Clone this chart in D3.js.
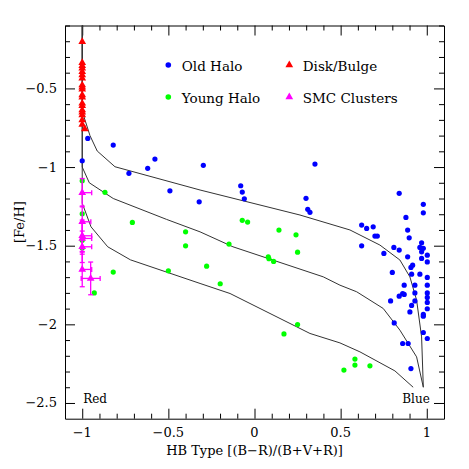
<!DOCTYPE html>
<html><head><meta charset="utf-8">
<script src="https://cdn.jsdelivr.net/npm/d3@7"></script>
<style>
html,body{margin:0;padding:0;background:#fff;}
svg text{font-family:"DejaVu Serif",serif;fill:#000;}
</style></head>
<body>
<svg id="chart" width="469" height="469"></svg>
<script>
// ---- data ----
const xTicksMajor = [-1, -0.5, 0, 0.5, 1];
const xTickLabels = ["\u22121", "\u22120.5", "0", "0.5", "1"];
const yTicksMajor = [-0.5, -1, -1.5, -2, -2.5];
const yTickLabels = ["\u22120.5", "\u22121", "\u22121.5", "\u22122", "\u22122.5"];

const model1X = [-1, -1, -0.99, -0.955, -0.913, -0.81, -0.316, 0.264, 0.554, 0.728, 0.844, 0.902, 0.941, 0.970, 0.980];
const model1Y = [-0.1, -0.62, -0.68, -0.80, -0.898, -0.998, -1.146, -1.305, -1.40, -1.496, -1.591, -1.698, -1.846, -2.08, -2.40];
const model2X = [-1, -1, -0.959, -0.82, -0.51, -0.316, -0.125, 0.399, 0.496, 0.593, 0.747, 0.844, 0.941, 0.980];
const model2Y = [-0.1, -1.0, -1.1, -1.2, -1.333, -1.412, -1.507, -1.698, -1.751, -1.793, -1.899, -2.037, -2.207, -2.40];
const model3X = [-1, -1, -0.949, -0.852, -0.72, -0.316, -0.142, 0.322, 0.496, 0.612, 0.815, 0.921];
const model3Y = [-0.1, -1.23, -1.38, -1.507, -1.59, -1.74, -1.804, -2.058, -2.118, -2.175, -2.296, -2.40];

const oldHaloX = [-0.968, -0.820, -1.0, -0.729, -0.620, -0.578, -0.297, -0.491, -0.321,
  0.351, -0.080, -0.071, -0.059, 0.299, 0.309, 0.322,
  0.840, 0.980, 0.980, 0.879, 0.622, 0.651, 0.689, 0.889, 0.699, 0.713, 0.898, 0.970,
  0.622, 0.809, 0.840, 0.960, 0.980, 0.970, 0.751, 1.003, 0.889, 0.970, 1.003, 0.918,
  0.908, 0.912, 0.960, 0.800, 1.003, 0.869, 0.931, 1.003, 0.860, 0.869, 0.840, 0.931,
  1.003, 1.003, 0.931, 0.790, 1.003, 0.912, 1.003, 0.902, 0.980, 0.980, 0.811, 0.980,
  1.003, 0.860, 0.892, 0.908];
const oldHaloY = [-0.818, -0.860, -0.96, -1.04, -1.008, -0.949, -0.989, -1.151, -1.221,
  -0.981, -1.119, -1.159, -1.202, -1.199, -1.269, -1.288,
  -1.167, -1.237, -1.291, -1.320, -1.369, -1.390, -1.380, -1.401, -1.439, -1.439, -1.450, -1.482,
  -1.501, -1.511, -1.528, -1.511, -1.517, -1.539, -1.549, -1.560, -1.571, -1.581, -1.603, -1.624,
  -1.638, -1.681, -1.681, -1.670, -1.702, -1.751, -1.751, -1.751, -1.804, -1.810, -1.821, -1.800,
  -1.800, -1.829, -1.851, -1.851, -1.861, -1.880, -1.901, -1.921, -1.937, -1.948, -1.991, -2.052,
  -2.090, -2.122, -2.122, -2.281];

const youngHaloX = [-1.0, -0.868, -1.0, -1.0, -1.0, -0.820, -0.930, -0.709, -0.400, -0.400,
  -0.278, -0.500, -0.071, -0.040, 0.142, 0.241, 0.250, -0.148, 0.080, 0.084, 0.111, -0.199,
  0.250, 0.171, 0.519, 0.583, 0.583, 0.670];
const youngHaloY = [-1.087, -1.161, -1.297, -1.466, -1.515, -1.668, -1.800, -1.352, -1.412, -1.501,
  -1.630, -1.660, -1.339, -1.350, -1.401, -1.431, -1.541, -1.490, -1.571, -1.583, -1.600, -1.742,
  -2.001, -2.061, -2.291, -2.221, -2.259, -2.264];

const diskX = [-1, -1, -1, -1, -1, -1, -1, -1, -1, -1, -1, -1, -1, -1, -1, -1, -1, -1, -1, -0.985];
const diskY = [-0.203, -0.337, -0.356, -0.372, -0.394, -0.415, -0.436, -0.479, -0.493, -0.506,
  -0.542, -0.557, -0.595, -0.610, -0.638, -0.652, -0.669, -0.701, -0.729, -0.758];

const smcX = [-1.0, -1.0, -1.0, -1.0, -1.0, -1.0, -0.951];
const smcY = [-1.163, -1.348, -1.437, -1.454, -1.507, -1.651, -1.708];
const smcXerrLo = [0, 0, 0, 0, 0, 0, 0.055];
const smcXerrHi = [0.055, 0.05, 0.055, 0.055, 0.055, 0.055, 0.055];
const smcYerr = [0.09, 0.1, 0.1, 0.1, 0.1, 0.11, 0.104];

const legendLabels = ["Old Halo", "Disk/Bulge", "Young Halo", "SMC Clusters"];

// ---- layout ----
const W = 469, H = 469;
const m = {left: 65, right: 25, top: 25.5, bottom: 50.3};
const svg = d3.select("#chart");
const x = d3.scaleLinear().domain([-1.1, 1.1]).range([m.left, W - m.right]);
const y = d3.scaleLinear().domain([-2.6, -0.1]).range([H - m.bottom, m.top]);

const majorLen = 10, minorLen = 5;
const minorX = d3.range(-10, 11).map(i => i / 10);
const minorY = d3.range(-25, 0).map(i => i / 10);
const isMajor = v => Math.abs(v * 2 - Math.round(v * 2)) < 1e-6;

// axes (ticks pointing inward on all four sides)
const axB = d3.axisBottom(x).tickValues(minorX).tickSizeInner(-minorLen).tickSizeOuter(0).tickFormat("");
const axT = d3.axisTop(x).tickValues(minorX).tickSizeInner(-minorLen).tickSizeOuter(0).tickFormat("");
const axL = d3.axisLeft(y).tickValues(minorY).tickSizeInner(-minorLen).tickSizeOuter(0).tickFormat("");
const axR = d3.axisRight(y).tickValues(minorY).tickSizeInner(-minorLen).tickSizeOuter(0).tickFormat("");

function styleAxis(g, dir) {
  g.select(".domain").attr("stroke", "#000").attr("stroke-width", 1);
  g.selectAll(".tick line").attr("stroke", "#000").attr("stroke-width", 1)
    .each(function(d) {
      if (isMajor(d)) {
        const l = d3.select(this);
        if (dir === "b" || dir === "t") l.attr("y2", dir === "b" ? -majorLen : majorLen);
        else l.attr("x2", dir === "l" ? majorLen : -majorLen);
      }
    });
}
svg.append("g").attr("transform", `translate(0,${H - m.bottom})`).call(axB).call(g => styleAxis(g, "b"));
svg.append("g").attr("transform", `translate(0,${m.top})`).call(axT).call(g => styleAxis(g, "t"));
svg.append("g").attr("transform", `translate(${m.left},0)`).call(axL).call(g => styleAxis(g, "l"));
svg.append("g").attr("transform", `translate(${W - m.right},0)`).call(axR).call(g => styleAxis(g, "r"));

// tick labels
svg.append("g").selectAll("text").data(xTicksMajor).join("text")
  .attr("x", d => x(d)).attr("y", H - m.bottom + 18)
  .attr("text-anchor", "middle").attr("font-size", 13)
  .text((d, i) => xTickLabels[i]);
svg.append("g").selectAll("text").data(yTicksMajor).join("text")
  .attr("x", m.left - 8).attr("y", d => y(d) + 4.5)
  .attr("text-anchor", "end").attr("font-size", 13)
  .text((d, i) => yTickLabels[i]);

// axis titles
svg.append("text").attr("x", x(0)).attr("y", 455).attr("text-anchor", "middle")
  .attr("font-size", 13).text("HB Type [(B\u2212R)/(B+V+R)]");
svg.append("text").attr("transform", `translate(24,${(m.top + H - m.bottom) / 2}) rotate(-90)`)
  .attr("text-anchor", "middle").attr("font-size", 13).text("[Fe/H]");

// model curves
const line = d3.line().x(d => x(d[0])).y(d => y(d[1]));
[[model1X, model1Y], [model2X, model2Y], [model3X, model3Y]].forEach(([mx, my]) => {
  svg.append("path").datum(mx.map((v, i) => [v, my[i]]))
    .attr("d", line).attr("fill", "none").attr("stroke", "#333").attr("stroke-width", 1);
});

const tri = d3.symbol().type(d3.symbolTriangle).size(26);

// old halo
svg.append("g").selectAll("circle").data(oldHaloX.map((v, i) => [v, oldHaloY[i]])).join("circle")
  .attr("cx", d => x(d[0])).attr("cy", d => y(d[1])).attr("r", 2.6).attr("fill", "#0000ff");
// young halo
svg.append("g").selectAll("circle").data(youngHaloX.map((v, i) => [v, youngHaloY[i]])).join("circle")
  .attr("cx", d => x(d[0])).attr("cy", d => y(d[1])).attr("r", 2.6).attr("fill", "#00ff00");
// disk/bulge
svg.append("g").selectAll("path").data(diskX.map((v, i) => [v, diskY[i]])).join("path")
  .attr("d", tri).attr("transform", d => `translate(${x(d[0])},${y(d[1])})`).attr("fill", "#ff0000");
// SMC clusters with error bars
const smc = smcX.map((v, i) => ({x: v, y: smcY[i], xl: smcXerrLo[i], xh: smcXerrHi[i], ye: smcYerr[i]}));
const eg = svg.append("g").attr("stroke", "#ff00ff").attr("stroke-width", 1.3);
const cap = 2.5;
smc.forEach(d => {
  eg.append("line").attr("x1", x(d.x)).attr("x2", x(d.x)).attr("y1", y(d.y - d.ye)).attr("y2", y(d.y + d.ye));
  eg.append("line").attr("x1", x(d.x) - cap).attr("x2", x(d.x) + cap).attr("y1", y(d.y - d.ye)).attr("y2", y(d.y - d.ye));
  eg.append("line").attr("x1", x(d.x) - cap).attr("x2", x(d.x) + cap).attr("y1", y(d.y + d.ye)).attr("y2", y(d.y + d.ye));
  eg.append("line").attr("x1", x(d.x - d.xl)).attr("x2", x(d.x + d.xh)).attr("y1", y(d.y)).attr("y2", y(d.y));
  eg.append("line").attr("x1", x(d.x + d.xh)).attr("x2", x(d.x + d.xh)).attr("y1", y(d.y) - cap).attr("y2", y(d.y) + cap);
  if (d.xl > 0) eg.append("line").attr("x1", x(d.x - d.xl)).attr("x2", x(d.x - d.xl)).attr("y1", y(d.y) - cap).attr("y2", y(d.y) + cap);
});
svg.append("g").selectAll("path").data(smc).join("path")
  .attr("d", tri).attr("transform", d => `translate(${x(d.x)},${y(d.y)})`).attr("fill", "#ff00ff");

// legend
const lg = svg.append("g");
const legendPos = [[168.3, 65], [289.3, 65], [168.3, 97], [289.3, 97]];
const legendColors = ["#0000ff", "#ff0000", "#00ff00", "#ff00ff"];
const legendShapes = ["circle", "tri", "circle", "tri"];
legendLabels.forEach((lab, i) => {
  const [lx, ly] = legendPos[i];
  if (legendShapes[i] === "circle") lg.append("circle").attr("cx", lx).attr("cy", ly).attr("r", 2.8).attr("fill", legendColors[i]);
  else lg.append("path").attr("d", tri).attr("transform", `translate(${lx},${ly})`).attr("fill", legendColors[i]);
  lg.append("text").attr("x", lx + 13.5).attr("y", ly + 5.5).attr("font-size", 13.5).text(lab);
});

// Red / Blue annotations
svg.append("text").attr("x", x(-1) + 1).attr("y", 403).attr("font-size", 12).text("Red");
svg.append("text").attr("x", x(1) + 3).attr("y", 403).attr("text-anchor", "end").attr("font-size", 12).text("Blue");
</script>
</body></html>
